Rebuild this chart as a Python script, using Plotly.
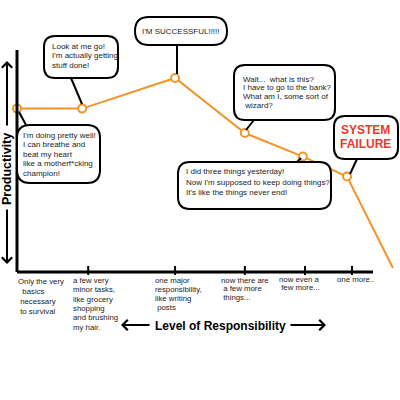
import plotly.graph_objects as go

# ---- data ----
responsibility = [0.0, 1.83, 4.44, 6.40, 8.03, 9.27, 10.56]
productivity = [7.36, 7.36, 8.74, 6.26, 5.20, 4.30, 0.18]
n_marked = 6  # last point is the crash, no marker

tick_x = [2.0, 4.44, 6.40, 8.09, 9.41]
tick_labels = [
    "Only the very<br>\u00a0\u00a0basics<br>\u00a0necessary<br>\u00a0to survival",
    "a few very<br>minor tasks,<br>like grocery<br>shopping<br>and brushing<br>my hair.",
    "one major<br>responsibility,<br>like writing<br>\u00a0posts",
    "now there are<br>\u00a0a few more<br>\u00a0things...",
    "now even a<br>\u00a0few more...",
    "one more..",
]

callout_texts = [
    "Look at me go!<br>I'm actually getting<br>stuff done!",
    "I'M SUCCESSFUL!!!!!",
    "I'm doing pretty well!<br>I can breathe and<br>beat my heart<br>like a motherf*cking<br>champion!",
    "Wait...  what is this?<br>I have to go to the bank?<br>What am I, some sort of<br>\u00a0wizard?",
    "SYSTEM<br>FAILURE",
    "I did three things yesterday!<br>Now I'm supposed to keep doing things?<br>It's like the things never end!",
]

# ---- layout constants (pixels in a 400x400 page) ----
W = H = 400
AX_L, AX_R, AX_B, AX_T = 17, 373, 272, 50
X_MAX, Y_MAX = 10.0, 10.0
sx = (AX_R - AX_L) / X_MAX
sy = (AX_B - AX_T) / Y_MAX
x_range = [-AX_L / sx, (W - AX_L) / sx]
y_range = [-(H - AX_B) / sy, AX_B / sy]

# tick label blocks: left edge px, first line centre px, line spacing px
LABEL_LEFT = [17, 72, 154, 220, 278, 336]
LABEL_TOP = [281.5, 280.5, 280.3, 280, 279.2, 279.3]
LABEL_GAP = [10, 9.3, 8.9, 8.7, 8.7, 9]

ORANGE = "#F0952A"
RED = "#E8392C"
INK = "#1c1c1c"
FONT = "Liberation Sans, Arial, sans-serif"


def px(x, y):
    return x / W, 1 - y / H


def rounded_box(x0, y0, x1, y1, r):
    r = min(r, (y1 - y0) / 2, (x1 - x0) / 2)

    def p(x, y):
        a, b = px(x, y)
        return f"{a:.4f},{b:.4f}"
    path = (
        f"M{p(x0 + r, y0)} L{p(x1 - r, y0)} Q{p(x1, y0)} {p(x1, y0 + r)} "
        f"L{p(x1, y1 - r)} Q{p(x1, y1)} {p(x1 - r, y1)} "
        f"L{p(x0 + r, y1)} Q{p(x0, y1)} {p(x0, y1 - r)} "
        f"L{p(x0, y0 + r)} Q{p(x0, y0)} {p(x0 + r, y0)} Z"
    )
    return dict(type="path", path=path, xref="paper", yref="paper",
                fillcolor="white", line=dict(color="black", width=2), layer="above")


# box rect, text x / first line centre / gap, anchor, connector (pixel coords)
boxes = [
    dict(rect=(44, 36, 118, 78), r=11, tx=51, ty=46, gap=9.6, anchor="left", conn=(71, 78, 82, 104)),
    dict(rect=(135, 17, 227, 45), r=14, tx=181, ty=31, gap=0, anchor="center", conn=(177, 45, 177, 74)),
    dict(rect=(17, 125, 100, 183), r=13, tx=22, ty=135, gap=9.5, anchor="left", conn=(19, 112, 26, 125)),
    dict(rect=(234, 65, 335, 120), r=11, tx=242, ty=79, gap=8.8, anchor="left", conn=(254, 120, 246, 130)),
    dict(rect=(334, 116, 398, 159), r=11, tx=365, ty=129.5, gap=14, anchor="center", conn=(357, 159, 350, 174)),
    dict(rect=(178, 162, 331, 209), r=12, tx=185, ty=172, gap=10, anchor="left", conn=(296, 163, 301, 158)),
]


def line_annotations(text, x_px, y0_px, gap, anchor, font):
    out = []
    for i, ln in enumerate(text.split("<br>")):
        a, b = px(x_px, y0_px + i * gap)
        out.append(dict(x=a, y=b, xref="paper", yref="paper", text=ln, showarrow=False,
                        xanchor=anchor, yanchor="middle", borderpad=0, font=font))
    return out


fig = go.Figure()

fig.add_trace(go.Scatter(
    x=responsibility, y=productivity, mode="lines",
    line=dict(color=ORANGE, width=2), hoverinfo="skip",
))
fig.add_trace(go.Scatter(
    x=responsibility[:n_marked], y=productivity[:n_marked], mode="markers",
    marker=dict(symbol="circle", size=8, color="white", line=dict(color=ORANGE, width=2)),
    hoverinfo="skip",
))

shapes = [
    dict(type="line", x0=0, x1=0, y0=0, y1=Y_MAX, xref="x", yref="y",
         line=dict(color="black", width=3)),
    dict(type="line", x0=0, x1=X_MAX, y0=0, y1=0, xref="x", yref="y",
         line=dict(color="black", width=3)),
]
for tx in tick_x:
    shapes.append(dict(type="line", x0=tx, x1=tx, y0=-0.13, y1=0.27, xref="x", yref="y",
                       line=dict(color="black", width=2)))

annotations = []
small = dict(family=FONT, size=7.8, color=INK)
for lab, lx, ly, gap in zip(tick_labels, LABEL_LEFT, LABEL_TOP, LABEL_GAP):
    annotations += line_annotations(lab, lx, ly, gap, "left", small)

for b, txt in zip(boxes, callout_texts):
    x0, y0, x1, y1 = b["rect"]
    cx0, cy0, cx1, cy1 = b["conn"]
    a0, b0 = px(cx0, cy0)
    a1, b1 = px(cx1, cy1)
    shapes.append(dict(type="line", x0=a0, y0=b0, x1=a1, y1=b1, xref="paper", yref="paper",
                       line=dict(color="black", width=2), layer="above"))
    shapes.append(rounded_box(x0, y0, x1, y1, b["r"]))
    if "SYSTEM" in txt:
        font = dict(family=FONT, size=12, color=RED)
        txt = "<br>".join(f"<b>{t}</b>" for t in txt.split("<br>"))
    else:
        font = dict(family=FONT, size=8, color=INK)
    annotations += line_annotations(txt, b["tx"], b["ty"], b["gap"], b["anchor"], font)

# axis titles
ytx, yty = px(7, 169)
annotations.append(dict(x=ytx, y=yty, xref="paper", yref="paper", text="<b>Productivity</b>",
                        textangle=-90, showarrow=False, xanchor="center", yanchor="middle",
                        font=dict(family=FONT, size=12.5, color="black")))
xtx, xty = px(220, 325.5)
annotations.append(dict(x=xtx, y=xty, xref="paper", yref="paper",
                        text="<b>Level of Responsibility</b>", showarrow=False,
                        xanchor="center", yanchor="middle",
                        font=dict(family=FONT, size=12, color="black")))

# arrows: (tip, tail) in pixels
arrows = [((7, 61), (7, 127)), ((7, 264), (7, 208)), ((121, 325), (151, 325)), ((326, 325), (289, 325))]
for (tx_, ty_), (sx_, sy_) in arrows:
    a, b_ = px(tx_, ty_)
    annotations.append(dict(x=a, y=b_, xref="paper", yref="paper", text="", showarrow=True,
                            ax=sx_ - tx_, ay=sy_ - ty_, arrowhead=4, arrowsize=1,
                            arrowwidth=2, arrowcolor="black", standoff=0))

fig.update_layout(
    width=W, height=H,
    margin=dict(l=0, r=0, t=0, b=0),
    paper_bgcolor="white", plot_bgcolor="white",
    showlegend=False,
    xaxis=dict(range=x_range, visible=False, fixedrange=True),
    yaxis=dict(range=y_range, visible=False, fixedrange=True),
    shapes=shapes,
    annotations=annotations,
)

fig.write_html("out.html", config={"displayModeBar": False},
               post_script="document.body.style.margin='0';")
